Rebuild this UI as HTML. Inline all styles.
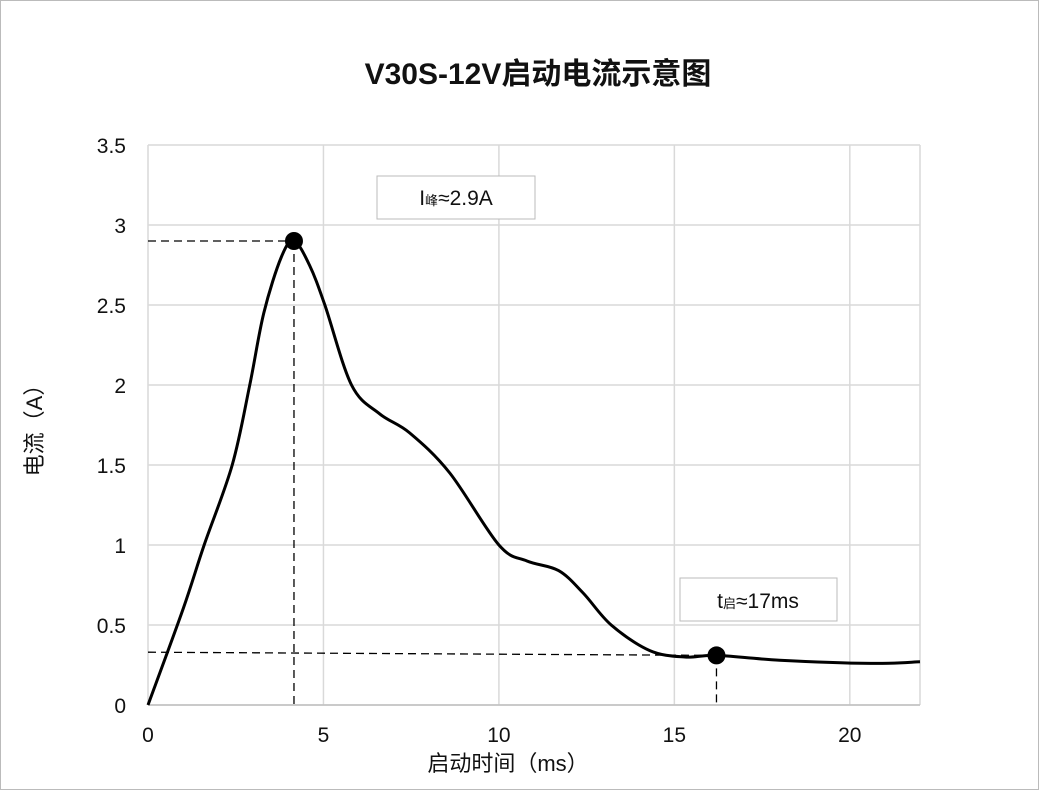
<!DOCTYPE html>
<html><head><meta charset="utf-8"><style>
body{margin:0;background:#fff;}
svg text{font-family:"Liberation Sans","Noto Sans CJK SC",sans-serif;fill:#111;}
</style></head><body>
<svg width="1039" height="790" viewBox="0 0 1039 790">
<rect x="0.5" y="0.5" width="1038" height="789" fill="#fff" stroke="#bbb"/>
<text x="538" y="84" font-size="30" font-weight="bold" text-anchor="middle">V30S-12V启动电流示意图</text>
<g id="grid"></g>
<g id="axes"></g>
<text x="42" y="425" font-size="22" text-anchor="middle" transform="rotate(-90 42 425)">电流（A）</text>
<text x="508" y="771" font-size="22" text-anchor="middle">启动时间（ms）</text>
<g id="guides"></g>
<path id="curve" fill="none" stroke="#000" stroke-width="3"/>
<g id="marks"></g>
<rect x="377" y="176" width="158" height="43" fill="#fff" stroke="#bbb"/>
<text x="456" y="205" font-size="21" text-anchor="middle">I<tspan font-size="13">峰</tspan>≈2.9A</text>
<rect x="680" y="578" width="157" height="43" fill="#fff" stroke="#bbb"/>
<text x="758" y="608" font-size="21" text-anchor="middle">t<tspan font-size="13">启</tspan>≈17ms</text>
</svg>
<script>
const times=[0,1,1.6,2.4,2.9,3.3,3.8,4.16,4.6,5.04,5.8,6.6,7.46,8.6,10,10.8,11.7,12.4,13.2,14.3,15.3,16.2,18,20.6,22];
const currents=[0,0.6,1,1.5,2,2.45,2.8,2.9,2.75,2.5,2,1.82,1.7,1.45,1,0.9,0.84,0.7,0.5,0.34,0.3,0.31,0.28,0.26,0.27];
const xTicks=[0,5,10,15,20];
const yTicks=[0,0.5,1,1.5,2,2.5,3,3.5];
const yTickLabels=["0","0.5","1","1.5","2","2.5","3","3.5"];
const peak=[4.16,2.9];
const startPt=[16.2,0.31];
const X0=148,X1=920,XMAX=22,Y0=705,Y1=145,YMAX=3.5;
const sx=v=>X0+(X1-X0)*v/XMAX, sy=v=>Y0-(Y0-Y1)*v/YMAX;
const NS="http://www.w3.org/2000/svg";
function mk(tag,attrs,parent){const e=document.createElementNS(NS,tag);for(const k in attrs)e.setAttribute(k,attrs[k]);parent.appendChild(e);return e;}
const grid=document.getElementById('grid'),axes=document.getElementById('axes');
yTicks.forEach((t,i)=>{
 const l=mk('line',{x1:X0,x2:X1,y1:sy(t),y2:sy(t),stroke:'#d9d9d9','stroke-width':1.5},grid);
 
 
 const tx=mk('text',{x:126,y:sy(t)+8,'font-size':21,'text-anchor':'end'},axes);
 tx.textContent=yTickLabels[i];
 
 
});
xTicks.forEach(t=>{
 const l=mk('line',{x1:sx(t),x2:sx(t),y1:Y1,y2:Y0,stroke:'#d9d9d9','stroke-width':1.5},grid);
 
 
 const tx=mk('text',{x:sx(t),y:742,'font-size':21,'text-anchor':'middle'},axes);
 tx.textContent=String(t);
 
 
});
const rb=mk('line',{x1:X1,x2:X1,y1:Y1,y2:Y0,stroke:'#d9d9d9','stroke-width':1.5},grid);


const xa=mk('line',{x1:X0,x2:X1,y1:Y0,y2:Y0,stroke:'#bfbfbf','stroke-width':1.5},axes);


// curve via Catmull-Rom
const P=times.map((t,i)=>[sx(t),sy(currents[i])]);
let d=`M${P[0][0]},${P[0][1]}`;
for(let i=0;i<P.length-1;i++){
 const p0=P[Math.max(0,i-1)],p1=P[i],p2=P[i+1],p3=P[Math.min(P.length-1,i+2)];
 const c1=[p1[0]+(p2[0]-p0[0])/6,p1[1]+(p2[1]-p0[1])/6],c2=[p2[0]-(p3[0]-p1[0])/6,p2[1]-(p3[1]-p1[1])/6];
 d+=` C${c1[0]},${c1[1]} ${c2[0]},${c2[1]} ${p2[0]},${p2[1]}`;
}
document.getElementById('curve').setAttribute('d',d);
const g=document.getElementById('guides');
function dash(x1,y1,x2,y2,name){const l=mk('line',{x1,y1,x2,y2,stroke:'#000','stroke-width':1.3,'stroke-dasharray':'8,5'},g);
 
 }
dash(X0,sy(peak[1]),sx(peak[0]),sy(peak[1]),'peak-h-guide');
dash(sx(peak[0]),sy(peak[1]),sx(peak[0]),Y0,'peak-v-guide');
dash(X0,sy(0.33),sx(startPt[0]),sy(startPt[1]),'start-h-guide');
dash(sx(startPt[0]),sy(startPt[1]),sx(startPt[0]),Y0,'start-v-guide');
const m=document.getElementById('marks');
const c1=mk('circle',{cx:sx(peak[0]),cy:sy(peak[1]),r:9,fill:'#000'},m);


const c2=mk('circle',{cx:sx(startPt[0]),cy:sy(startPt[1]),r:9,fill:'#000'},m);


</script>
</body></html>
